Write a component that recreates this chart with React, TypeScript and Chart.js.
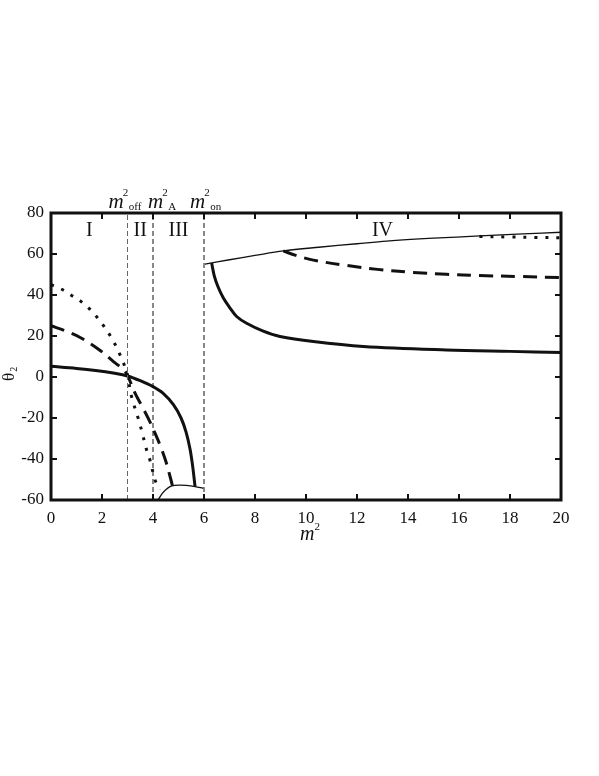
import React, { useEffect, useRef } from "react";
import { Chart, registerables } from "chart.js";

Chart.register(...registerables);

// Axis ranges / ticks
const xRange = [0, 20];
const yRange = [-60, 80];
const xStep = 2;
const yStep = 20;

// Region I-III curves
const solidLeftX = [0, 1, 1.75, 2.5, 3, 3.5, 4, 4.4, 4.8, 5.1, 5.3, 5.45, 5.55, 5.65];
const solidLeftY = [5.2, 4.2, 3.2, 1.8, 0.5, -1.8, -4.7, -8, -13.5, -20, -27, -35, -43, -53.5];

const dashedLeftX = [0, 0.6, 1.2, 1.9, 2.45, 2.85, 3.0, 3.3, 3.6, 3.9, 4.1, 4.3, 4.5, 4.7, 4.78];
const dashedLeftY = [25, 22.3, 18.9, 13.2, 7.5, 3.5, 0.8, -8, -15, -22.4, -28, -34, -41, -50, -54];

const dottedLeftX = [0, 0.42, 0.78, 1.16, 1.49, 1.79, 2.05, 2.4, 2.7, 2.9, 3.0, 3.16, 3.42, 3.55, 3.75, 3.88, 4.08, 4.25];
const dottedLeftY = [45, 42.8, 40, 37, 33.5, 29.4, 25.2, 18.5, 11, 5, 1, -9.6, -20.2, -25.9, -35.6, -40.5, -50.2, -55];

const thinMidX = [4.2, 4.35, 4.5, 4.67, 4.85, 5.06, 5.3, 5.65, 5.97];
const thinMidY = [-60, -57, -55, -53.5, -52.9, -52.7, -52.9, -53.5, -54.3];

// Region IV curves
const thinRightX = [6.04, 7, 8, 9.11, 10.5, 12, 13.16, 15, 16.82, 18.5, 20];
const thinRightY = [55.1, 57.2, 59.3, 61.5, 63.3, 65, 66.3, 67.7, 68.8, 69.8, 70.6];

const dashedRightX = [9.11, 9.6, 10.29, 11.6, 12.8, 14.2, 15.5, 16.8, 18.4, 20];
const dashedRightY = [61.5, 59.3, 57, 54.4, 52.5, 51, 50.1, 49.5, 49, 48.5];

const dottedRightX = [16.8, 18, 19, 20];
const dottedRightY = [68.5, 68.3, 68.1, 67.9];

const solidRightX = [6.3, 6.4, 6.55, 6.76, 7, 7.28, 7.67, 8.3, 8.98, 10.29, 12.25, 15.5, 18, 20];
const solidRightY = [55.6, 49.5, 44, 38.5, 34, 29.5, 26.2, 22.5, 19.8, 17.3, 14.9, 13.2, 12.5, 12];

// Boundaries
const boundaryX = [3, 4, 6];
const boundaryNames = ["off", "A", "on"];
const regionNames = ["I", "II", "III", "IV"];
const regionX = [1.5, 3.5, 5, 13];
const regionY = 72;

const zip = (xs: number[], ys: number[]) => xs.map((x, i) => ({ x, y: ys[i] }));

const SERIF = '"Liberation Serif", "DejaVu Serif", serif';

const decor = {
  id: "decor",
  afterDraw(chart: any) {
    const { ctx, chartArea, scales } = chart;
    const xs = scales.x;
    const ys = scales.y;
    const { left, right, top, bottom } = chartArea;
    ctx.save();
    ctx.strokeStyle = "#111";
    ctx.fillStyle = "#111";
    // inward ticks
    ctx.lineWidth = 2;
    for (let v = xRange[0]; v <= xRange[1]; v += xStep) {
      const px = xs.getPixelForValue(v);
      ctx.beginPath();
      ctx.moveTo(px, bottom);
      ctx.lineTo(px, bottom - 6);
      ctx.moveTo(px, top);
      ctx.lineTo(px, top + 6);
      ctx.stroke();
    }
    for (let v = yRange[0]; v <= yRange[1]; v += yStep) {
      const py = ys.getPixelForValue(v);
      ctx.beginPath();
      ctx.moveTo(left, py);
      ctx.lineTo(left + 6, py);
      ctx.moveTo(right, py);
      ctx.lineTo(right - 6, py);
      ctx.stroke();
    }
    // frame
    ctx.lineWidth = 3;
    ctx.strokeRect(left, top, right - left, bottom - top);

    // region labels
    ctx.font = `20px ${SERIF}`;
    ctx.textAlign = "center";
    ctx.textBaseline = "alphabetic";
    regionNames.forEach((n, i) => {
      ctx.fillText(n, xs.getPixelForValue(regionX[i]), ys.getPixelForValue(regionY) + 7);
    });

    // boundary labels m^2_sub
    const offsets = [-19, -5, -14];
    ctx.textAlign = "left";
    boundaryX.forEach((bx, i) => {
      const px = xs.getPixelForValue(bx) + offsets[i];
      const base = top - 5;
      ctx.font = `italic 21px ${SERIF}`;
      ctx.fillText("m", px, base);
      const mw = ctx.measureText("m").width;
      ctx.font = `11px ${SERIF}`;
      ctx.fillText("2", px + mw - 1, base - 12);
      ctx.fillText(boundaryNames[i], px + mw + 5, base + 2);
    });

    // x-axis title
    {
      const px = xs.getPixelForValue(10) - 6;
      const base = 540;
      ctx.font = `italic 20px ${SERIF}`;
      ctx.fillText("m", px, base);
      const mw = ctx.measureText("m").width;
      ctx.font = `11px ${SERIF}`;
      ctx.fillText("2", px + mw, base - 10);
    }

    // y-axis title (rotated)
    {
      ctx.translate(14, 381);
      ctx.rotate(-Math.PI / 2);
      ctx.font = `17px ${SERIF}`;
      ctx.fillText("θ", 0, 0);
      const tw = ctx.measureText("θ").width;
      ctx.font = `10px ${SERIF}`;
      ctx.fillText("2", tw + 1, 3);
    }
    ctx.restore();
  },
};

export default function App() {
  const ref = useRef<HTMLCanvasElement | null>(null);
  useEffect(() => {
    if (!ref.current) return;
    const thin = { borderColor: "#111", borderWidth: 1.3, pointRadius: 0, fill: false, tension: 0.35 };
    const thick = { borderColor: "#111", borderWidth: 3, pointRadius: 0, fill: false, tension: 0.35 };
    const dashed = { ...thick, borderDash: [14, 8] };
    const dotted = { ...thick, borderDash: [3, 8] };
    const datasets: any[] = [
      ...boundaryX.map((bx, i) => ({
        data: [{ x: bx, y: yRange[0] }, { x: bx, y: yRange[1] }],
        borderColor: i === 0 ? "#666" : "#111",
        borderWidth: 1,
        borderDash: [5, 3],
        pointRadius: 0,
      })),
      { ...thin, data: zip(thinMidX, thinMidY) },
      { ...thin, data: zip(thinRightX, thinRightY) },
      { ...thick, data: zip(solidLeftX, solidLeftY) },
      { ...dashed, data: zip(dashedLeftX, dashedLeftY) },
      { ...dotted, data: zip(dottedLeftX, dottedLeftY) },
      { ...thick, data: zip(solidRightX, solidRightY) },
      { ...dashed, data: zip(dashedRightX, dashedRightY) },
      { ...dotted, data: zip(dottedRightX, dottedRightY) },
    ];
    const chart = new Chart(ref.current, {
      type: "line",
      data: { datasets },
      options: {
        animation: false,
        responsive: false,
        layout: { padding: { left: 0, right: 38, top: 213, bottom: 236 } },
        plugins: { legend: { display: false }, tooltip: { enabled: false } },
        scales: {
          x: {
            type: "linear",
            min: xRange[0],
            max: xRange[1],
            grid: { display: false, drawTicks: false },
            border: { display: false },
            ticks: { stepSize: xStep, padding: 8, color: "#111", font: { family: SERIF, size: 17 } },
            afterFit: (s: any) => { s.height = 40; },
          },
          y: {
            min: yRange[0],
            max: yRange[1],
            grid: { display: false, drawTicks: false },
            border: { display: false },
            ticks: { stepSize: yStep, padding: 7, color: "#111", font: { family: SERIF, size: 17 } },
            afterFit: (s: any) => { s.width = 51; },
          },
        },
      },
      plugins: [decor],
    });
    return () => chart.destroy();
  }, []);
  return (
    <div style={{ position: "absolute", left: 0, top: 0, width: 599, height: 776, background: "#fff" }}>
      <canvas ref={ref} width={599} height={776} />
    </div>
  );
}
